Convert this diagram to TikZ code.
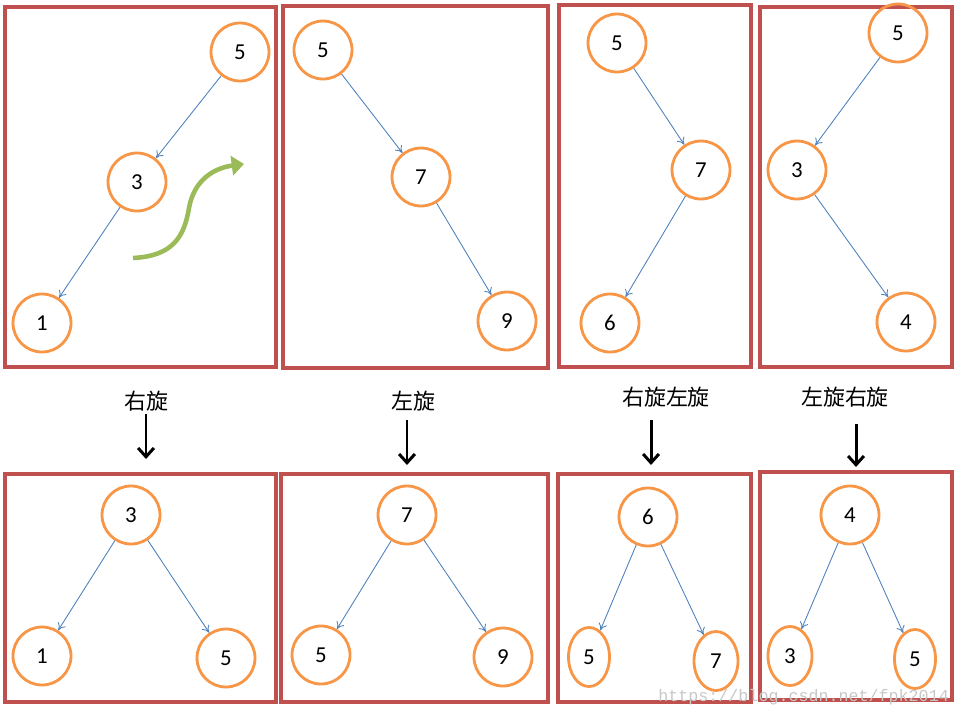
\documentclass[tikz,border=0pt]{standalone}
\usepackage{fontspec}
\setmainfont{Carlito}
\newfontfamily\cjk{Noto Sans CJK SC}
\newfontfamily\wmfont{Liberation Mono}
\usetikzlibrary{arrows.meta,shapes.geometric}
\definecolor{nodeorange}{HTML}{F79646}
\definecolor{boxred}{HTML}{C0504D}
\definecolor{edgeblue}{HTML}{4F81BD}
\definecolor{turngreen}{HTML}{9BBB59}
\begin{document}
\begin{tikzpicture}[x=0.02cm,y=-0.02cm,
	key/.style={circle, draw=nodeorange, line width=1.6pt, minimum size=1.16cm, inner sep=0pt, font=\fontsize{13}{15}\selectfont},
	oval/.style={ellipse, draw=nodeorange, line width=1.6pt, minimum width=0.82cm, minimum height=1.18cm, inner sep=0pt, font=\fontsize{13}{15}\selectfont},
	frame/.style={draw=boxred, line width=1.8pt},
	link/.style={draw=edgeblue, line width=0.5pt, -{To[length=4pt,width=5pt]}},
	step label/.style={font=\cjk\fontsize{12.5}{14}\selectfont},
	down/.style={line width=1.7pt, -{Straight Barb[length=5pt,width=9pt,line width=1.7pt]}}]
	\useasboundingbox (0,0) rectangle (960,720);

	% frames
	\draw[frame] (5,7) rectangle (276,367);
	\draw[frame] (283,6) rectangle (548,368);
	\draw[frame] (559,5) rectangle (751,367);
	\draw[frame] (760,7) rectangle (952,367);
	\draw[frame] (5,474) rectangle (276,702);
	\draw[frame] (281,474) rectangle (548,702);
	\draw[frame] (558,474) rectangle (751,702);
	\draw[frame] (760,472) rectangle (952,700);

	% before
	\node (A5) at (240, 52)	[key]	{5};
	\node (A3) at (137,182)	[key]	{3};
	\node (A1) at ( 42,323)	[key]	{1};
	\draw[link] (A5) -- (A3);
	\draw[link] (A3) -- (A1);
	\coordinate (g1) at (133,258);
	\coordinate (g2) at (244,164);
	\draw[turngreen, line width=2.6pt, -{Triangle[length=7pt,width=11pt]}]
		(g1) .. controls (172,256) and (184,238) .. (189,208)
		.. controls (194,180) and (214,168) .. (g2);

	\node (B5) at (323, 50)	[key]	{5};
	\node (B7) at (421,177)	[key]	{7};
	\node (B9) at (507,321)	[key]	{9};
	\draw[link] (B5) -- (B7);
	\draw[link] (B7) -- (B9);

	\node (C5) at (617, 43)	[key]	{5};
	\node (C7) at (701,170)	[key]	{7};
	\node (C6) at (610,323)	[key]	{6};
	\draw[link] (C5) -- (C7);
	\draw[link] (C7) -- (C6);

	\node (D5) at (898, 33)	[key]	{5};
	\node (D3) at (797,170)	[key]	{3};
	\node (D4) at (906,322)	[key]	{4};
	\draw[link] (D5) -- (D3);
	\draw[link] (D3) -- (D4);

	% rotations
	\node (R1) at (146,401)	[step label]	{右旋};
	\node (R2) at (413,401)	[step label]	{左旋};
	\node (R3) at (666,397)	[step label]	{右旋左旋};
	\node (R4) at (845,397)	[step label]	{左旋右旋};
	\coordinate (T1) at (146,414);	\coordinate (E1) at (146,459);
	\coordinate (T2) at (407,420);	\coordinate (E2) at (407,465);
	\coordinate (T3) at (651,420);	\coordinate (E3) at (651,465);
	\coordinate (T4) at (856,424);	\coordinate (E4) at (856,467);
	\draw[down] (T1) -- (E1);
	\draw[down] (T2) -- (E2);
	\draw[down] (T3) -- (E3);
	\draw[down] (T4) -- (E4);

	% after
	\node (P3) at (131,515)	[key]	{3};
	\node (P1) at ( 42,656)	[key]	{1};
	\node (P5) at (226,658)	[key]	{5};
	\draw[link] (P3) -- (P1);
	\draw[link] (P3) -- (P5);

	\node (Q7) at (407,515)	[key]	{7};
	\node (Q5) at (321,655)	[key]	{5};
	\node (Q9) at (503,657)	[key]	{9};
	\draw[link] (Q7) -- (Q5);
	\draw[link] (Q7) -- (Q9);

	\node (S6) at (648,517)	[key]	{6};
	\node (S5) at (589,657)	[oval]	{5};
	\node (S7) at (716,661)	[oval, minimum width=0.88cm]	{7};
	\draw[link] (S6) -- (S5);
	\draw[link] (S6) -- (S7);

	\node (U4) at (850,515)	[key]	{4};
	\node (U3) at (790,656)	[oval, minimum width=0.88cm]	{3};
	\node (U5) at (915,659)	[oval]	{5};
	\draw[link] (U4) -- (U3);
	\draw[link] (U4) -- (U5);

	\node (W) at (658,697)	[anchor=west, text=black!22, font=\wmfont\fontsize{9.5}{11}\selectfont, inner sep=0pt]	{https://blog.csdn.net/fpk2014};
\end{tikzpicture}
\end{document}
